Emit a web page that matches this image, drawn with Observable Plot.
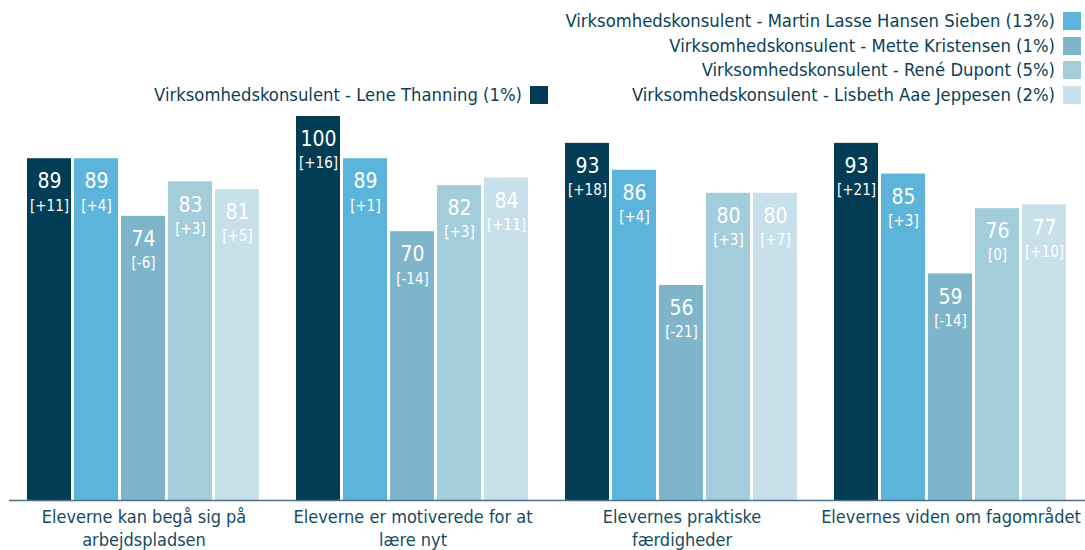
<!DOCTYPE html>
<html><head><meta charset="utf-8">
<script src="https://cdn.jsdelivr.net/npm/d3@7"></script>
<script src="https://cdn.jsdelivr.net/npm/@observablehq/plot@0.6"></script>
<style>
body{margin:0;background:#fff;font-family:"DejaVu Sans",sans-serif;font-stretch:condensed;overflow:hidden;}
#legend{position:relative;width:1085px;height:108px;}
.item{position:absolute;display:flex;align-items:center;font-size:18.3px;color:#0d3f56;white-space:nowrap;line-height:18px;}
.sw{width:18px;height:18px;margin-left:8px;}
#chart svg{display:block;font-stretch:condensed;overflow:visible;}
</style></head><body>
<div id="legend"></div><div id="chart"></div>
<script>
const categories = ["Eleverne kan begå sig på arbejdspladsen", "Eleverne er motiverede for at lære nyt", "Elevernes praktiske færdigheder", "Elevernes viden om fagområdet"];
const categoryLabels = ["Eleverne kan begå sig på\narbejdspladsen", "Eleverne er motiverede for at\nlære nyt", "Elevernes praktiske\nfærdigheder", "Elevernes viden om fagområdet"];
const series = ["Virksomhedskonsulent - Lene Thanning (1%)", "Virksomhedskonsulent - Martin Lasse Hansen Sieben (13%)", "Virksomhedskonsulent - Mette Kristensen (1%)", "Virksomhedskonsulent - René Dupont (5%)", "Virksomhedskonsulent - Lisbeth Aae Jeppesen (2%)"];
const colors = ["#033d55", "#5db4da", "#7fb5ca", "#a4cddb", "#c8e0ea"];
const leneValues = [89, 100, 93, 93];
const martinValues = [89, 89, 86, 85];
const metteValues = [74, 70, 56, 59];
const reneValues = [83, 82, 80, 76];
const lisbethValues = [81, 84, 80, 77];
const leneChanges = ["+11", "+16", "+18", "+21"];
const martinChanges = ["+4", "+1", "+4", "+3"];
const metteChanges = ["-6", "-14", "-21", "-14"];
const reneChanges = ["+3", "+3", "+3", "0"];
const lisbethChanges = ["+5", "+11", "+7", "+10"];

const allValues = [leneValues, martinValues, metteValues, reneValues, lisbethValues];
const allChanges = [leneChanges, martinChanges, metteChanges, reneChanges, lisbethChanges];
const data = [];
series.forEach((s, i) => categories.forEach((c, j) => data.push({category: c, series: s, value: allValues[i][j], change: allChanges[i][j]})));

// legend
const legend = document.getElementById("legend");
const legendSlots = [
  {i: 1, right: 4, top: 12},
  {i: 2, right: 4, top: 37},
  {i: 3, right: 4, top: 61},
  {i: 4, right: 4, top: 86},
  {i: 0, right: 537, top: 86}
];
legendSlots.forEach(({i, right, top}) => {
  const el = document.createElement("div");
  el.className = "item";
  el.style.right = right + "px";
  el.style.top = top + "px";
  const t = document.createElement("span");
  t.textContent = series[i];
  const sw = document.createElement("span");
  sw.className = "sw";
  sw.style.background = colors[i];
  el.appendChild(t); el.appendChild(sw);
  legend.appendChild(el);
});

const font = '"DejaVu Sans", sans-serif';
const chart = Plot.plot({
  width: 1085, height: 442,
  marginTop: 8, marginBottom: 50, marginLeft: 8, marginRight: 0,
  style: {fontFamily: font, background: "white", color: "#164b61"},
  fx: {domain: categories, padding: 0, label: null},
  x: {domain: series, paddingInner: 0.055, paddingOuter: 0.34, axis: null},
  y: {domain: [0, 100], axis: null},
  color: {domain: series, range: colors},
  marks: [
    Plot.barY(data, {fx: "category", x: "series", y: "value", fill: "series"}),
    Plot.ruleY([0], {stroke: "#4f6f88", strokeWidth: 1.5}),
    Plot.text(data, {fx: "category", x: "series", y: "value", text: d => String(d.value), dy: 23, fill: "white", fontSize: 21}),
    Plot.text(data, {fx: "category", x: "series", y: "value", text: d => `[${d.change}]`, dy: 47, fill: "white", fontSize: 15}),
    Plot.axisFx({anchor: "bottom", tickSize: 0, tickPadding: 6, fontSize: 18, lineHeight: 1.28, label: null, fill: "#164b61",
      tickFormat: c => categoryLabels[categories.indexOf(c)]})
  ]
});
document.getElementById("chart").appendChild(chart);
</script>
</body></html>
